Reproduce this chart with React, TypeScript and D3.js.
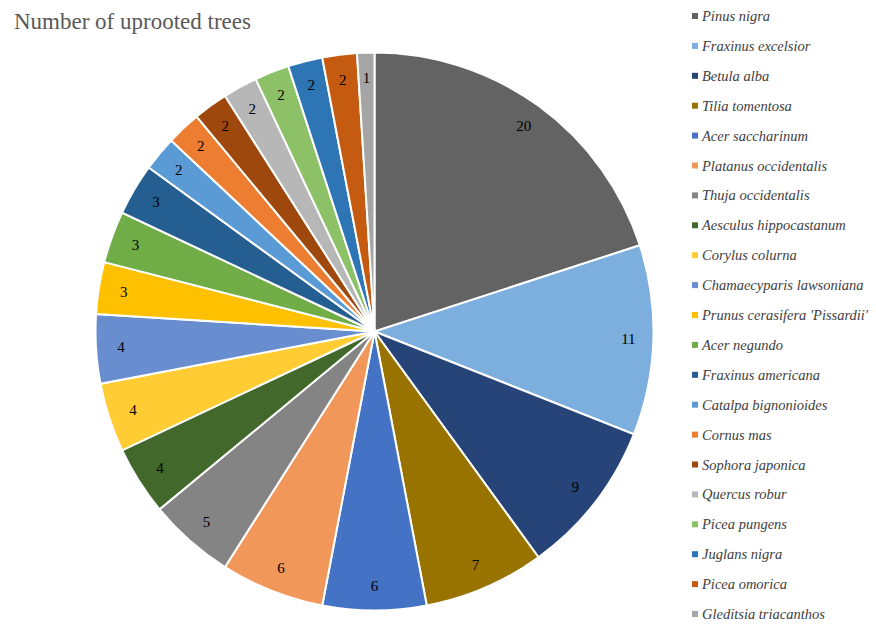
import React from "react";
import * as d3 from "d3";

const species = [
  "Pinus nigra",
  "Fraxinus excelsior",
  "Betula alba",
  "Tilia tomentosa",
  "Acer saccharinum",
  "Platanus occidentalis",
  "Thuja occidentalis",
  "Aesculus hippocastanum",
  "Corylus colurna",
  "Chamaecyparis lawsoniana",
  "Prunus cerasifera 'Pissardii'",
  "Acer negundo",
  "Fraxinus americana",
  "Catalpa bignonioides",
  "Cornus mas",
  "Sophora japonica",
  "Quercus robur",
  "Picea pungens",
  "Juglans nigra",
  "Picea omorica",
  "Gleditsia triacanthos",
];

const counts = [20, 11, 9, 7, 6, 6, 5, 4, 4, 4, 3, 3, 3, 2, 2, 2, 2, 2, 2, 2, 1];

const colors = [
  "#636363",
  "#7cafdd",
  "#264478",
  "#997300",
  "#4472c4",
  "#f1975a",
  "#848484",
  "#43682b",
  "#ffcd33",
  "#698ed0",
  "#ffc000",
  "#70ad47",
  "#255e91",
  "#5b9bd5",
  "#ed7d31",
  "#9e480e",
  "#b7b7b7",
  "#8cc168",
  "#2e75b6",
  "#c55a11",
  "#a5a5a5",
];

const title = "Number of uprooted trees";

const W = 876;
const H = 624;
const cx = 374.5;
const cy = 331.5;
const R = 279;
const FONT = "Liberation Serif";

type Row = { name: string; value: number; color: string };

export default function App() {
  const rows: Row[] = species.map((name, i) => ({ name, value: counts[i], color: colors[i] }));
  const pie = d3
    .pie<Row>()
    .value((d) => d.value)
    .sort(null);
  const arcs = pie(rows);
  const arc = d3.arc<d3.PieArcDatum<Row>>().innerRadius(0).outerRadius(R);
  const labelArc = d3
    .arc<d3.PieArcDatum<Row>>()
    .innerRadius(R - 25)
    .outerRadius(R - 25);

  const legendY = d3.scalePoint<string>().domain(species).range([16, 614]);

  return (
    <svg width={W} height={H} style={{ position: "absolute", left: 0, top: 0, background: "#fff" }}>
      <text x={14} y={29} fontSize={23} fill="#595959" fontFamily={FONT} style={{ fontFamily: FONT }}>
        {title}
      </text>
      <g transform={`translate(${cx},${cy})`}>
        {arcs.map((a, i) => (
          <path key={i} d={arc(a) || ""} fill={a.data.color} stroke="#fff" strokeWidth={2} />
        ))}
        {arcs.map((a, i) => {
          const [x, y] = labelArc.centroid(a);
          return (
            <text
              key={i}
              x={x}
              y={y + 5}
              fontSize={15}
              fill="#000"
              textAnchor="middle"
              fontFamily={FONT}
              style={{ fontFamily: FONT }}
            >
              {a.data.value}
            </text>
          );
        })}
      </g>
      <g>
        {rows.map((r) => {
          const y = legendY(r.name) as number;
          return (
            <g key={r.name}>
              <rect x={692} y={y - 3} width={6} height={6} fill={r.color} />
              <text
                x={702}
                y={y + 5}
                fontSize={14.5}
                fontStyle="italic"
                fill="#404040"
                fontFamily={FONT}
                style={{ fontFamily: FONT }}
              >
                {r.name}
              </text>
            </g>
          );
        })}
      </g>
    </svg>
  );
}
